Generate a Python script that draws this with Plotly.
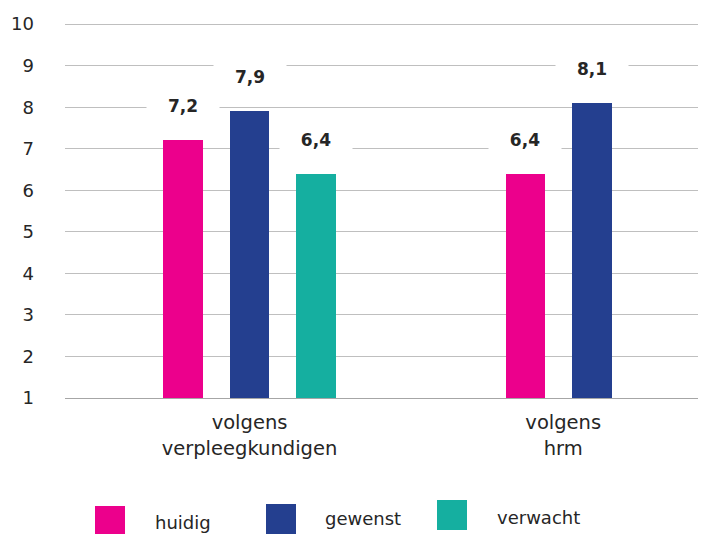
import plotly.graph_objects as go

categories = ["volgens<br>verpleegkundigen", "volgens<br>hrm"]
series_names = ["huidig", "gewenst", "verwacht"]
values = {
    "huidig": [7.2, 6.4],
    "gewenst": [7.9, 8.1],
    "verwacht": [6.4, None],
}
value_labels = {
    "huidig": ["7,2", "6,4"],
    "gewenst": ["7,9", "8,1"],
    "verwacht": ["6,4", None],
}
colors = {"huidig": "#EC008C", "gewenst": "#243F8F", "verwacht": "#15AFA0"}
y_ticks = list(range(1, 11))

FONT = "DejaVu Sans"
TXT = "#262626"
slot = 0.215
bar_w = 0.128

fig = go.Figure()
annotations = []
for ci, cat in enumerate(categories):
    present = [s for s in series_names if values[s][ci] is not None]
    n = len(present)
    for k, s in enumerate(present):
        xpos = ci + (k - (n - 1) / 2) * slot
        v = values[s][ci]
        fig.add_trace(go.Bar(
            x=[xpos], y=[v - 1], base=1, width=bar_w,
            marker=dict(color=colors[s], line=dict(width=0)),
            showlegend=False, hoverinfo="skip",
        ))
        annotations.append(dict(
            x=xpos, y=v, xref="x", yref="y", yshift=34,
            text="<b>%s</b>" % value_labels[s][ci], showarrow=False,
            font=dict(family=FONT, size=17, color=TXT),
            bgcolor="white", width=70, height=28,
        ))

# legend drawn as squares + text in paper coordinates
W, H = 702, 534
ml, mr, mt, mb = 65, 4, 20, 136
pw, ph = W - ml - mr, H - mt - mb
shapes = []
leg_sq_x = [95, 266, 437]
leg_sq_y = [506, 504, 500]
leg_txt_x = [153, 323, 495]
leg_txt_y = [522, 518, 517]
def px2paper_x(px):
    return (px - ml) / pw
def px2paper_y(py):
    return (H - mb - py) / ph
for i, s in enumerate(series_names):
    shapes.append(dict(
        type="rect", xref="paper", yref="paper",
        x0=px2paper_x(leg_sq_x[i]), x1=px2paper_x(leg_sq_x[i] + 30),
        y0=px2paper_y(leg_sq_y[i] + 30), y1=px2paper_y(leg_sq_y[i]),
        fillcolor=colors[s], line=dict(width=0),
    ))
    annotations.append(dict(
        x=px2paper_x(leg_txt_x[i]), y=px2paper_y(leg_txt_y[i]),
        xref="paper", yref="paper", xanchor="left", yanchor="middle",
        text=s, showarrow=False, font=dict(family=FONT, size=18, color=TXT),
    ))

fig.update_layout(
    width=W, height=H,
    margin=dict(l=ml, r=mr, t=mt, b=mb),
    paper_bgcolor="white", plot_bgcolor="white",
    barmode="overlay", bargap=0,
    annotations=annotations, shapes=shapes,
    font=dict(family=FONT, size=18, color=TXT),
)
fig.update_xaxes(
    range=[-0.597, 1.451],
    tickvals=[0.0, 1.015], ticktext=categories,
    showgrid=False, zeroline=False,
    showline=True, linecolor="#A6A6A6", linewidth=1,
    ticks="", ticklabelstandoff=7,
    tickfont=dict(family=FONT, size=19.5, color=TXT),
)
fig.update_yaxes(
    range=[1, 10.1], tickvals=y_ticks,
    showgrid=True, gridcolor="#BFBFBF", gridwidth=1,
    zeroline=False, showline=False, ticks="",
    ticklabelstandoff=30,
    tickfont=dict(family=FONT, size=18, color=TXT),
)
fig.write_html("out.html")
